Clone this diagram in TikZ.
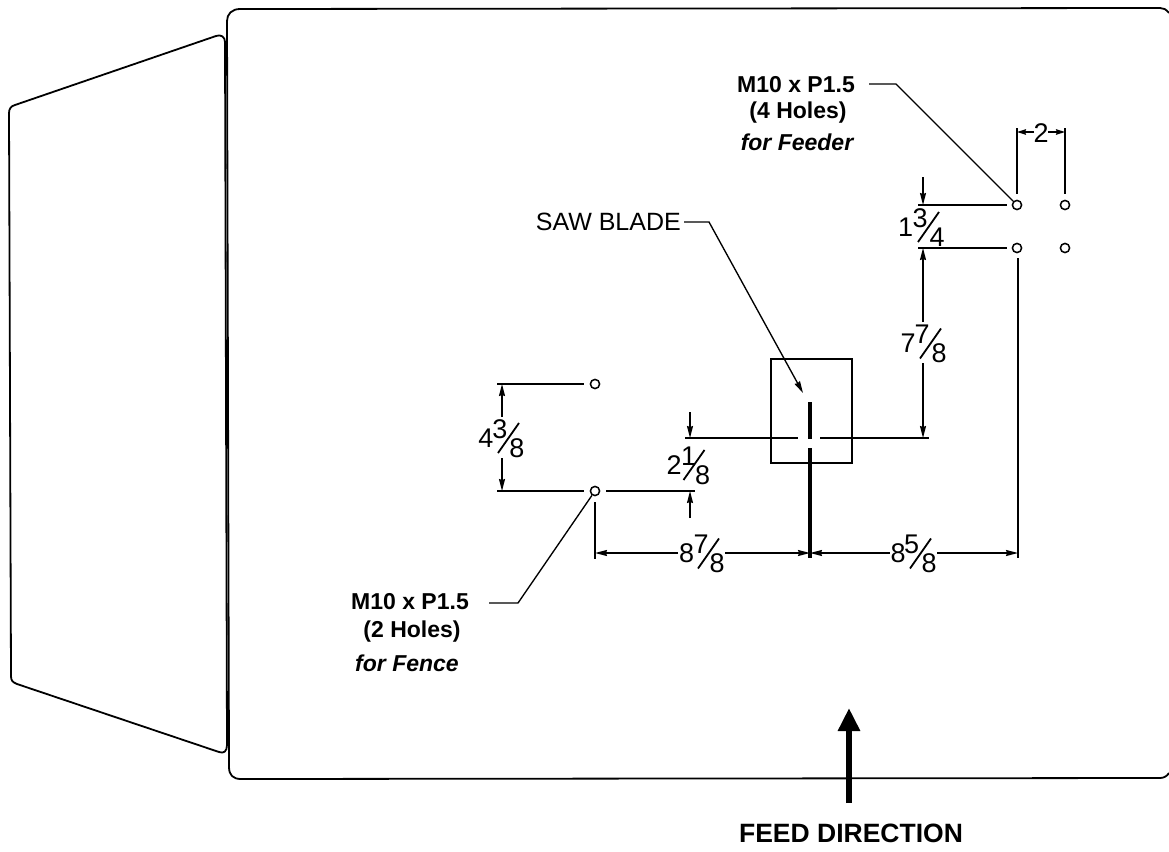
\documentclass[tikz,border=0pt]{standalone}
\usepackage{fontspec}
\setmainfont{Liberation Sans}
\usetikzlibrary{arrows.meta}
\tikzset{
  body/.style={line width=1.8pt,black,line join=round},
  thin line/.style={line width=1.35pt,black},
  dimline/.style={line width=1.35pt,black,-{Stealth[length=12pt,width=6pt,inset=1pt]}},
  smalldim/.style={line width=1.35pt,black,-{Stealth[length=9pt,width=5.5pt,inset=1pt]}},
  hole/.style={circle,draw,line width=1.5pt,minimum size=9.2pt,inner sep=0pt,fill=white},
  blab/.style={font=\bfseries\fontsize{23}{29.5}\selectfont,inner sep=0pt,anchor=center},
  ilab/.style={font=\bfseries\itshape\fontsize{23}{29.5}\selectfont,inner sep=0pt,anchor=center},
  lab/.style={font=\fontsize{25}{29}\selectfont,inner sep=0pt},
  digit/.style={font=\fontsize{27}{27}\selectfont,inner sep=0pt}
}
\newcommand{\myfrac}[8]{% name, slash centre x, y, whole, num, den, whole offset, num offset
  \node[digit] (#1w) at (#2+#7,#3) {#4};
  \node[digit] (#1n) at (#2+#8,#3-9) {#5};
  \node[digit] (#1d) at (#2+8.5,#3+10) {#6};
  \coordinate (#1a) at (#2+10.5,#3-15);
  \coordinate (#1b) at (#2-10.5,#3+15);
  \draw[line width=1.8pt] (#1a) -- (#1b);
}
\begin{document}
\begin{tikzpicture}[x=1pt,y=-1pt]
\useasboundingbox (0,0) rectangle (1169,851);
% table
\draw[body] (1169,13) .. controls (1166,9) and (1163,8) .. (1160,8) -- (240,9)
  .. controls (232,9) and (227,14) .. (227,21)
  -- (229,767) .. controls (229,775) and (233,779) .. (241,779) -- (1160,778)
  .. controls (1164,778) and (1167,776) .. (1169,773);
% wing
\draw[body] (225,42) -- (227,745) .. controls (227,751) and (224,754) .. (219,752)
  -- (17,684) .. controls (12,682) and (11,680) .. (11,676) -- (9,113)
  .. controls (9,109) and (11,106) .. (15,105) -- (216,36) .. controls (221,34) and (225,37) .. (225,42);
% holes
\node[hole] (h1) at (1017,205) {};
\node[hole] (h2) at (1065,205) {};
\node[hole] (h3) at (1017,248) {};
\node[hole] (h4) at (1065,248) {};
\node[hole] (h5) at (595,384) {};
\node[hole] (h6) at (595,491) {};
% insert
\node[draw,line width=1.35pt,minimum width=81pt,minimum height=104pt,inner sep=0pt] (plate) at (811.5,411) {};
% blade
\coordinate (b1) at (810,402);
\coordinate (b2) at (810,439);
\coordinate (b3) at (810,448);
\coordinate (b4) at (810,558);
\draw[line width=3.2pt] (b1) -- (b2);
\draw[line width=3.2pt] (b3) -- (b4);
% labels
\node[blab] (t1a) at (796,85) {M10 x P1.5};
\node[blab] (t1b) at (798,113) {(4 Holes)};
\node[ilab] (t1c) at (797,142) {for Feeder};
\node[blab] (t2a) at (410,602) {M10 x P1.5};
\node[blab] (t2b) at (412,632) {(2 Holes)};
\node[ilab] (t2c) at (407,663) {for Fence};
\node[lab,anchor=east] (t3) at (681,222) {SAW BLADE};
\node[font=\bfseries\fontsize{26.5}{28}\selectfont,inner sep=0pt] (t4) at (851,833) {FEED DIRECTION};
% leaders
\coordinate (l1) at (869,84);
\coordinate (l1k) at (896,84);
\draw[thin line] (l1) -- (l1k) -- (h1.135);
\coordinate (l2) at (489,603);
\coordinate (l2k) at (518,603);
\draw[thin line] (l2) -- (l2k) -- (h6.235);
\coordinate (l3) at (684,222);
\coordinate (l3k) at (709,222);
\coordinate (l3e) at (803,393);
\draw[dimline] (l3) -- (l3k) -- (l3e);
% extension lines, top right
\coordinate (e1) at (918,205);
\coordinate (e2) at (918,248);
\draw[thin line] (e1) -- (1007,205);
\draw[thin line] (e2) -- (1007,248);
\coordinate (e3) at (1017,128);
\coordinate (e4) at (1065,128);
\draw[thin line] (e3) -- (1017,194);
\draw[thin line] (e4) -- (1065,194);
\coordinate (d2l) at (1034,132);
\coordinate (d2r) at (1048,132);
\draw[smalldim] (d2l) -- (1017,132);
\draw[smalldim] (d2r) -- (1065,132);
\node[digit] (d2) at (1041,133) {2};
% 1 3/4
\coordinate (a1) at (923,177);
\draw[dimline] (a1) -- (923,205);
\myfrac{f1}{928.5}{227}{1}{3}{4}{-23}{-8.5}
% 7 7/8
\coordinate (a2) at (923,322);
\coordinate (a3) at (923,363);
\draw[dimline] (a2) -- (923,248);
\draw[dimline] (a3) -- (923,438);
\myfrac{f2}{930.5}{343.5}{7}{7}{8}{-22.5}{-8.5}
% centre line
\coordinate (c1) at (685,438);
\coordinate (c2) at (798,438);
\coordinate (c3) at (820,438);
\coordinate (c4) at (929,438);
\draw[thin line] (c1) -- (c2);
\draw[thin line] (c3) -- (c4);
% 2 1/8
\coordinate (a4) at (690,412);
\draw[dimline] (a4) -- (690,438);
\coordinate (a5) at (690,518);
\draw[dimline] (a5) -- (690,491);
\myfrac{f3}{694}{465}{2}{1}{8}{-20}{-5.5}
\coordinate (e5) at (695,491);
\draw[thin line] (606,491) -- (e5);
% 4 3/8
\coordinate (e6) at (497,384);
\coordinate (e7) at (497,491);
\draw[thin line] (e6) -- (584,384);
\draw[thin line] (e7) -- (584,491);
\coordinate (a6) at (502,417);
\coordinate (a7) at (502,458);
\draw[dimline] (a6) -- (502,384);
\draw[dimline] (a7) -- (502,491);
\myfrac{f4}{508.5}{438}{4}{3}{8}{-22.5}{-8.5}
% 8 7/8
\coordinate (e8) at (595,502);
\coordinate (e9) at (595,559);
\draw[thin line] (e8) -- (e9);
\coordinate (a8) at (678,553);
\coordinate (a9) at (725,553);
\draw[dimline] (a8) -- (595,553);
\draw[dimline] (a9) -- (810,553);
\myfrac{f5}{708.5}{553.5}{8}{7}{8}{-22}{-7.5}
% 8 5/8
\coordinate (e10) at (1018,258);
\coordinate (e11) at (1018,558);
\draw[thin line] (e10) -- (e11);
\coordinate (a10) at (890,553);
\coordinate (a11) at (937,553);
\draw[dimline] (a10) -- (810,553);
\draw[dimline] (a11) -- (1018,553);
\myfrac{f6}{920.5}{553.5}{8}{5}{8}{-22.5}{-9}
% feed arrow
\coordinate (fa) at (849,803);
\coordinate (fb) at (849,708);
\draw[line width=6pt,-{Triangle[length=23pt,width=21pt]}] (fa) -- (fb);
\end{tikzpicture}
\end{document}
